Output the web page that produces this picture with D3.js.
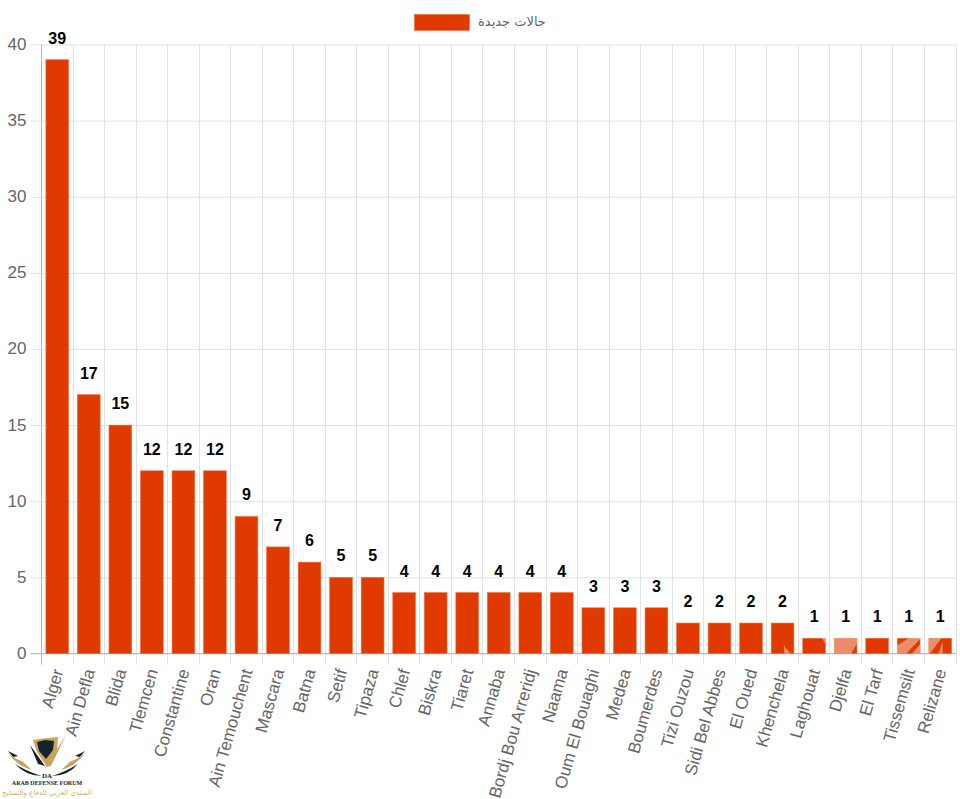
<!DOCTYPE html>
<html>
<head>
<meta charset="utf-8">
<script src="https://cdnjs.cloudflare.com/ajax/libs/d3/7.8.5/d3.min.js"></script>
<style>
    html, body { margin: 0; padding: 0; background: #fff; }
    svg { display: block; }
    text { font-family: "Liberation Sans", Arial, sans-serif; }
</style>
</head>
<body>
<svg id="chart" width="960" height="799"></svg>
<script>
var wilayas = ["Alger", "Ain Defla", "Blida", "Tlemcen", "Constantine", "Oran", "Ain Temouchent", "Mascara", "Batna",
    "Setif", "Tipaza", "Chlef", "Biskra", "Tiaret", "Annaba", "Bordj Bou Arreridj", "Naama", "Oum El Bouaghi", "Medea",
    "Boumerdes", "Tizi Ouzou", "Sidi Bel Abbes", "El Oued", "Khenchela", "Laghouat", "Djelfa", "El Tarf", "Tissemsilt", "Relizane"];
var newCases = [39, 17, 15, 12, 12, 12, 9, 7, 6, 5, 5, 4, 4, 4, 4, 4, 4, 3, 3, 3, 2, 2, 2, 2, 1, 1, 1, 1, 1];
var yTicks = [0, 5, 10, 15, 20, 25, 30, 35, 40];
var seriesName = "حالات جديدة";

var svg = d3.select("#chart"),
    margin = { top: 44.5, right: 4, bottom: 145.5, left: 41.5 },
    width = +svg.attr("width") - margin.left - margin.right,
    height = +svg.attr("height") - margin.top - margin.bottom,
    g = svg.append("g").attr("transform", "translate(" + margin.left + "," + margin.top + ")");

var barColor = "#e03a00",
    barEdge = "#ee6a3c",
    gridColor = "#e1e1e1",
    tickColor = "#666";

var x = d3.scaleBand().domain(wilayas).range([0, width]).paddingInner(0).paddingOuter(0);
var y = d3.scaleLinear().domain([0, 40]).range([height, 0]);

// y axis, the ticks double as grid lines
var yAxis = g.append("g")
    .call(d3.axisLeft(y).tickValues(yTicks).tickSize(11).tickPadding(4));
yAxis.select(".domain").remove();
yAxis.selectAll("line").attr("stroke", gridColor).attr("x2", width).attr("x1", -11);
yAxis.selectAll("text").attr("fill", tickColor).style("font-family", "Liberation Sans").style("font-size", "17px").attr("dy", "0.29em");

// x axis, Chart.js puts the ticks on the band edges
var edges = wilayas.map(function (d) { return x(d); }).concat([width]);
g.append("g").selectAll("line")
    .data(edges)
    .enter().append("line")
    .attr("x1", function (d) { return Math.round(d); })
    .attr("x2", function (d) { return Math.round(d); })
    .attr("y1", 0)
    .attr("y2", height + 11)
    .attr("stroke", gridColor);

g.append("line").attr("x1", -11).attr("x2", width).attr("y1", height).attr("y2", height).attr("stroke", "#b8b8b8");
g.append("line").attr("x1", 0).attr("x2", 0).attr("y1", 0).attr("y2", height + 11).attr("stroke", "#b8b8b8");

var xAxis = g.append("g")
    .attr("transform", "translate(0," + height + ")")
    .call(d3.axisBottom(x).tickSize(0));
xAxis.select(".domain").remove();
xAxis.selectAll("text")
    .attr("fill", tickColor)
    .style("font-family", "Liberation Sans")
    .style("font-size", "17px")
    .attr("text-anchor", "end")
    .attr("x", 0)
    .attr("y", 0)
    .attr("dy", "0.32em")
    .attr("transform", "translate(1,16) rotate(-74)");

var barW = x.bandwidth() * 0.72;

g.selectAll(".bar")
    .data(newCases)
    .enter().append("rect")
    .attr("class", "bar")
    .attr("x", function (d, i) { return x(wilayas[i]) + (x.bandwidth() - barW) / 2; })
    .attr("y", function (d) { return y(d); })
    .attr("width", barW)
    .attr("height", function (d) { return height - y(d); })
    .attr("fill", barColor)
    .attr("stroke", barEdge)
    .attr("stroke-width", 0.6);

g.selectAll(".value")
    .data(newCases)
    .enter().append("text")
    .attr("class", "value")
    .attr("x", function (d, i) { return x(wilayas[i]) + x.bandwidth() / 2; })
    .attr("y", function (d) { return y(d) - 16; })
    .attr("text-anchor", "middle")
    .attr("fill", "#000")
    .style("font-size", "16px")
    .style("font-weight", "bold")
    .text(function (d) { return d; });

// pale streaks the screenshot's watermark leaves over the last bars, as fractions of each bar
var streaks = [
    { name: "Khenchela", pts: [[0.55, 0.7], [0.62, 0.8], [0.85, 1], [0.58, 1]] },
    { name: "Laghouat", pts: [[0.85, 0], [1, 0], [1, 0.4]] },
    { name: "Djelfa", pts: [[0, 0], [1, 0], [1, 0.1], [1, 0.35], [0.75, 1], [0, 1]] },
    { name: "Tissemsilt", pts: [[0, 0.45], [0.5, 0], [1, 0], [1, 0.05], [0.4, 1], [0, 1]] },
    { name: "Tissemsilt", pts: [[0.65, 1], [1, 0.4], [1, 1]] },
    { name: "Relizane", pts: [[0, 0], [0.55, 0], [0.05, 1], [0, 1]] },
    { name: "Relizane", pts: [[0.42, 1], [0.6, 0.25], [0.62, 1]] }
];
g.selectAll(".streak")
    .data(streaks)
    .enter().append("polygon")
    .attr("class", "streak")
    .attr("fill", "#fff")
    .attr("fill-opacity", 0.42)
    .attr("points", function (s) {
        var i = wilayas.indexOf(s.name),
            x0 = x(s.name) + (x.bandwidth() - barW) / 2,
            y0 = y(newCases[i]),
            h = height - y0;
        return s.pts.map(function (p) { return [x0 + p[0] * barW, y0 + p[1] * h].join(","); }).join(" ");
    });

// legend
svg.append("rect")
    .attr("x", 414.5).attr("y", 14.5).attr("width", 55).attr("height", 16)
    .attr("fill", barColor).attr("stroke", barEdge).attr("stroke-width", 0.6);
svg.append("text")
    .attr("x", 478).attr("y", 26)
    .attr("fill", tickColor)
    .style("font-family", "'DejaVu Sans', sans-serif")
    .style("font-size", "13px")
    .text(seriesName);

// forum watermark, bottom left
var gold = "#c7a45c", navy = "#14242f";
var mark = svg.append("g").attr("class", "watermark");
mark.append("path").attr("d", "M33 740 Q45 738 58 737 L57 750 L47 767 L37 752 Z").attr("fill", gold);
mark.append("path").attr("d", "M37 742 L45 740 L54 741 L53 750 L46 759 L39 751 Z").attr("fill", navy);
mark.append("path").attr("d", "M46 767 L66 735 L51 766 Z").attr("fill", gold);
mark.append("path").attr("d", "M30 745 L45 766 L38 764 Z").attr("fill", navy);
mark.append("path").attr("d", "M8 751 L18 756 L13 757 Z").attr("fill", navy);
mark.append("path").attr("d", "M8 753 Q17 760 22 761 L32 770 Q17 766 8 753 Z").attr("fill", gold);
mark.append("path").attr("d", "M15 764 Q28 772 42 776 Q26 776 15 764 Z").attr("fill", navy);
mark.append("path").attr("d", "M85 751 L75 756 L80 757 Z").attr("fill", navy);
mark.append("path").attr("d", "M85 753 Q76 760 71 761 L61 770 Q76 766 85 753 Z").attr("fill", gold);
mark.append("path").attr("d", "M78 764 Q65 772 52 776 Q68 776 78 764 Z").attr("fill", navy);
mark.append("text").attr("x", 47).attr("y", 778).attr("text-anchor", "middle").attr("fill", navy)
    .style("font-family", "Liberation Serif").style("font-size", "7px").style("font-weight", "bold").text("DA");
mark.append("text").attr("x", 47).attr("y", 785).attr("text-anchor", "middle").attr("fill", navy)
    .style("font-family", "Liberation Serif").style("font-size", "6px").style("font-weight", "bold").text("ARAB DEFENSE FORUM");
mark.append("text").attr("x", 47).attr("y", 795).attr("text-anchor", "middle").attr("fill", "#d2b06c")
    .style("font-family", "DejaVu Sans").style("font-size", "7px").text("المنتدى العربي للدفاع والتسليح");
</script>
</body>
</html>
